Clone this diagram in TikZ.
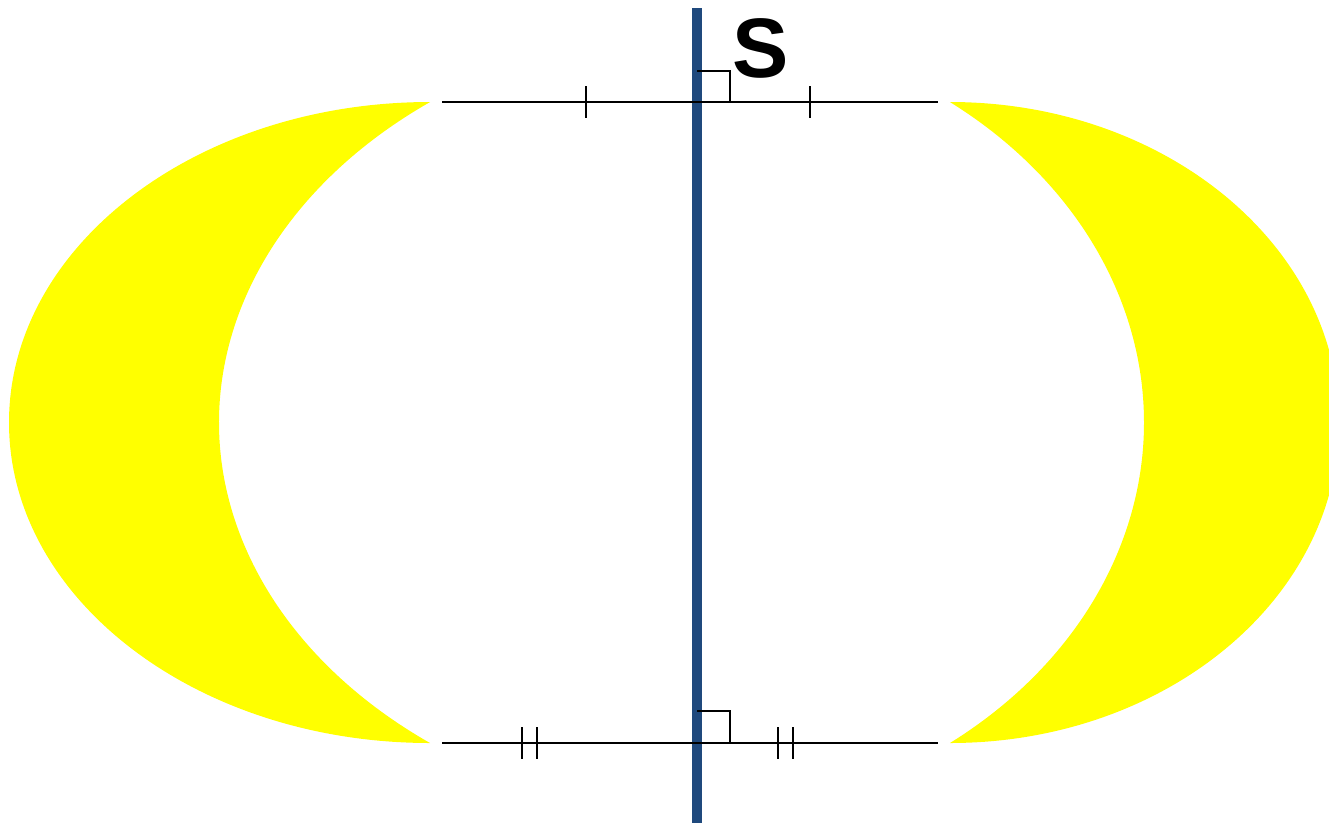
\documentclass[tikz,border=0pt]{standalone}
\usepackage{fontspec}
\setmainfont{Liberation Sans}
\usepackage{xcolor}
\usepackage{tikz}
\definecolor{axisblue}{RGB}{31,73,125}
\definecolor{moon}{RGB}{255,255,0}

\begin{document}
\begin{tikzpicture}[
			x=0.01cm, y=-0.01cm,
			crescent/.style={fill=moon,draw=none},
			seg/.style={line width=0.65pt},
			axis/.style={draw=axisblue,line width=2.8pt},
			label/.style={inner sep=0pt,font=\fontsize{24}{24}\selectfont\bfseries}
			]
			\fill[white] (0,0) rectangle (1329,823);
			\clip (0,0) rectangle (1329,823);
			% crescents
			\fill[crescent] (430,102) arc[start angle=-90,end angle=-270,x radius=421,y radius=320.5]
				arc[start angle=126.87,end angle=233.13,x radius=527.5,y radius=400.6] -- cycle;
			\fill[crescent] (950,102) arc[start angle=-90,end angle=90,x radius=389,y radius=320.5]
				arc[start angle=53.13,end angle=-53.13,x radius=485,y radius=400.6] -- cycle;
			% symmetry axis
			\coordinate (axtop) at (697,8);
			\coordinate (axbot) at (697,823);
			\draw[axis] (axtop)--(axbot);
			% segments
			\coordinate (ul) at (442,102);
			\coordinate (ur) at (938,102);
			\coordinate (ll) at (442,743);
			\coordinate (lr) at (938,743);
			\draw[seg] (ul)--(ur);
			\draw[seg] (ll)--(lr);
			\foreach \x in {586,810}
				\draw[seg] (\x,86)--(\x,118);
			\foreach \x in {522,537,778,793}
				\draw[seg] (\x,727)--(\x,759);
			% right angles
			\draw[seg] (697,71) -| (730,102);
			\draw[seg] (697,711) -| (730,743);
			\node[label] (s) at (761,48) {S};
		\end{tikzpicture}
\end{document}
